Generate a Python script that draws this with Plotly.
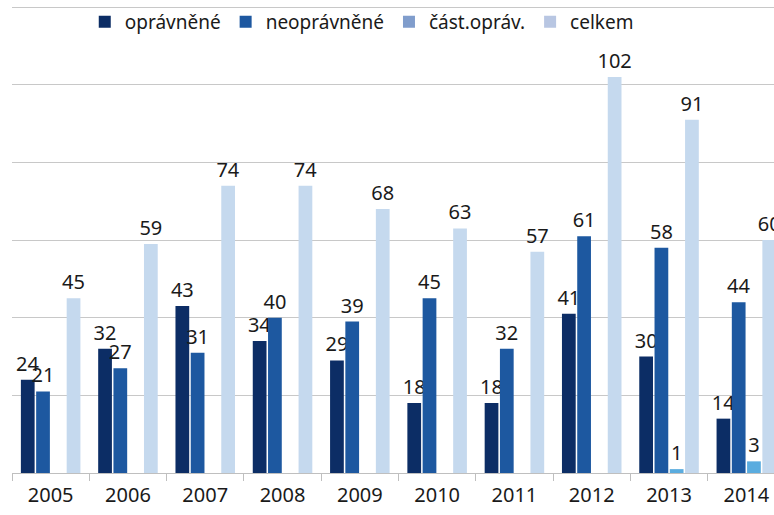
import plotly.graph_objects as go

years = ["2005", "2006", "2007", "2008", "2009", "2010", "2011", "2012", "2013", "2014"]
opravnene = [24, 32, 43, 34, 29, 18, 18, 41, 30, 14]
neopravnene = [21, 27, 31, 40, 39, 45, 32, 61, 58, 44]
cast_oprav = [None, None, None, None, None, None, None, None, 1, 3]
celkem = [45, 59, 74, 74, 68, 63, 57, 102, 91, 60]

series_names = ["oprávněné", "neoprávněné", "část.opráv.", "celkem"]
series_values = [opravnene, neopravnene, cast_oprav, celkem]
bar_colors = ["#0c2d65", "#1d58a0", "#5aacdf", "#c5d9ee"]
legend_colors = ["#0c2d65", "#1d58a0", "#809dcc", "#b8c6e2"]

FONT = "Noto Sans"
FONT_SIZE = 20

fig = go.Figure()

for i, (name, vals, color) in enumerate(zip(series_names, series_values, bar_colors)):
    fig.add_trace(go.Bar(
        x=years,
        y=vals,
        name=name,
        offsetgroup=str(i),
        marker_color=color,
        marker_line_width=0,
        text=["" if v is None else str(v) for v in vals],
        textposition="outside",
        constraintext="none",
        textfont=dict(size=FONT_SIZE, color="#1a1a1a", family=FONT),
        cliponaxis=False,
        showlegend=False,
    ))

# legend entries use the slightly different swatch colours of the original
for i, (name, color) in enumerate(zip(series_names, legend_colors)):
    fig.add_trace(go.Bar(x=[None], y=[None], name=name, offsetgroup=str(i),
                         marker_color=color, marker_line_width=0, showlegend=True))

fig.update_layout(
    width=774,
    height=515,
    margin=dict(l=12, r=0, t=6, b=42, autoexpand=False),
    paper_bgcolor="white",
    plot_bgcolor="white",
    barmode="group",
    bargap=0.21,
    bargroupgap=0.1,
    font=dict(family=FONT, color="#1a1a1a"),
    legend=dict(
        orientation="h",
        x=0.459,
        xanchor="center",
        y=0.966,
        yanchor="middle",
        bgcolor="rgba(0,0,0,0)",
        font=dict(size=19, family=FONT),
        itemwidth=30,
        tracegroupgap=0,
    ),
)

fig.update_xaxes(
    type="category",
    range=[-0.5, 9.358],
    tickson="boundaries",
    ticks="outside",
    ticklen=7,
    tickcolor="#bfbfbf",
    showline=True,
    linecolor="#bfbfbf",
    linewidth=1,
    showgrid=False,
    automargin=False,
    ticklabelstandoff=4,
    tickfont=dict(size=FONT_SIZE, family=FONT),
)

fig.update_yaxes(
    range=[0, 120.3],
    dtick=20,
    showgrid=True,
    gridcolor="#c8c8c8",
    gridwidth=1,
    showticklabels=False,
    zeroline=False,
    automargin=False,
)

fig.write_html("out.html", config={"displayModeBar": False},
               post_script="document.body.style.margin='0';")
